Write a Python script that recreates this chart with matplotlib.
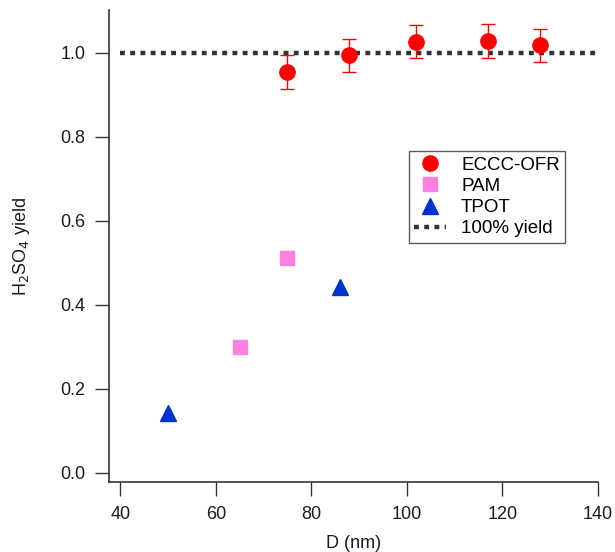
import matplotlib
matplotlib.use('Agg')
import matplotlib.pyplot as plt
from matplotlib.lines import Line2D
from matplotlib.ticker import FormatStrFormatter

plt.rcParams['font.family'] = ['Liberation Sans', 'DejaVu Sans']

# ECCC-OFR measurements with error bars
eccc_d = [75, 88, 102, 117, 128]
eccc_y = [0.953, 0.993, 1.026, 1.028, 1.017]
eccc_err = [0.04, 0.04, 0.04, 0.04, 0.04]

# PAM and TPOT
pam_d = [65, 75]
pam_y = [0.30, 0.51]
tpot_d = [50, 86]
tpot_y = [0.143, 0.443]

# 100% yield reference line
ref_d = [40, 140]
ref_y = [1.0, 1.0]

RED = '#ff0000'
PINK = '#ff80e0'
BLUE = '#0033cc'
DOTS = (0, (1.1, 1.2))

fig = plt.figure(figsize=(6.15, 5.52), dpi=100)
ax = fig.add_axes([0.177, 0.127, 0.795, 0.854])

ax.plot(ref_d, ref_y, ls=DOTS, color='#333333', lw=3.2, zorder=1)
ax.errorbar(eccc_d, eccc_y, yerr=eccc_err, fmt='o', color=RED, ms=11,
            ecolor=RED, elinewidth=1, capsize=5, capthick=1, zorder=3)
ax.plot(pam_d, pam_y, 's', color=PINK, ms=10.5, zorder=3)
ax.plot(tpot_d, tpot_y, '^', color=BLUE, ms=12, zorder=3)

ax.set_xlim(37.6, 140)
ax.set_ylim(-0.022, 1.10)
ax.set_xticks([40, 60, 80, 100, 120, 140])
ax.set_yticks([0.0, 0.2, 0.4, 0.6, 0.8, 1.0])
ax.yaxis.set_major_formatter(FormatStrFormatter('%.1f'))
ax.spines['top'].set_visible(False)
ax.spines['right'].set_visible(False)
for s in ('left', 'bottom'):
    ax.spines[s].set_color('#333333')
    ax.spines[s].set_linewidth(1.2)
ax.tick_params(direction='out', length=10, width=1, color='#333333',
               labelsize=13, labelcolor='#1a1a2a', pad=7)
ax.set_xlabel('D (nm)', fontsize=13, color='#1a1a2a', labelpad=9)
ax.set_ylabel('H$_2$SO$_4$ yield', fontsize=13, color='#1a1a2a', labelpad=20)

handles = [
    Line2D([], [], ls='none', marker='o', color=RED, ms=11),
    Line2D([], [], ls='none', marker='s', color=PINK, ms=10.5),
    Line2D([], [], ls='none', marker='^', color=BLUE, ms=12),
    Line2D([], [], ls=DOTS, color='#333333', lw=3.2),
]
labels = ['ECCC-OFR', 'PAM', 'TPOT', '100% yield']
leg = ax.legend(handles, labels, loc='upper left', bbox_to_anchor=(0.613, 0.702),
                fontsize=13.5, frameon=True, fancybox=False, edgecolor='#333333',
                handlelength=1.7, borderpad=0.3, labelspacing=0.22,
                handletextpad=0.8, borderaxespad=0)
leg.get_frame().set_linewidth(1)

fig.savefig('out.png', dpi=100)
